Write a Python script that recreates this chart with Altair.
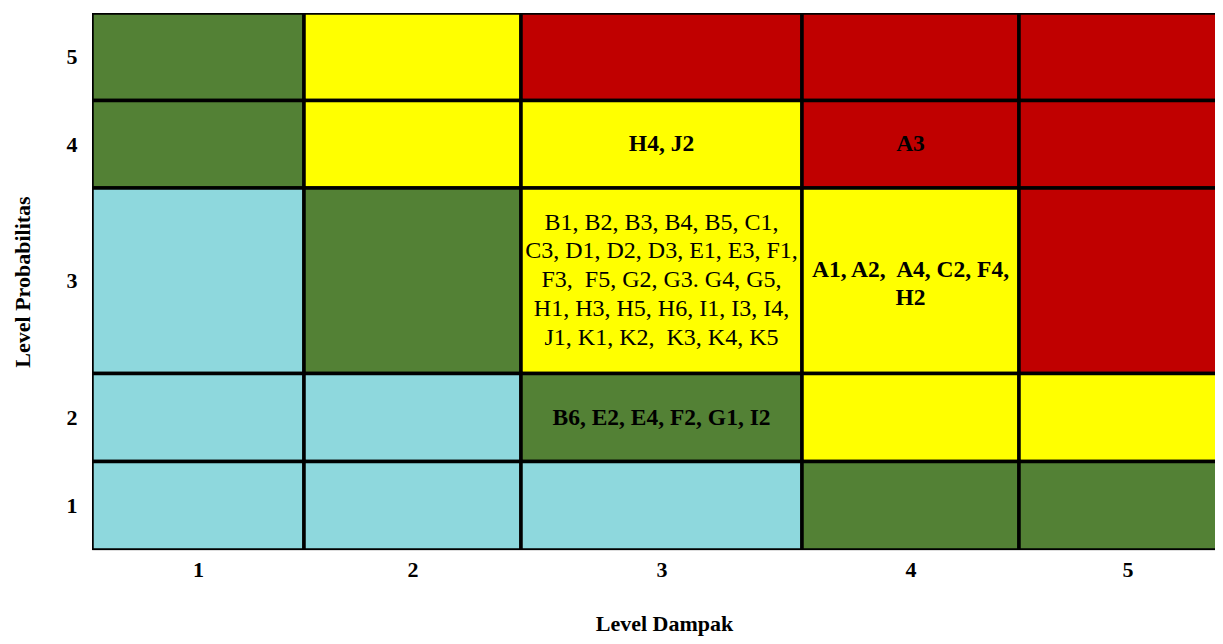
import altair as alt
import pandas as pd

# ---- data -------------------------------------------------------------
impact_levels = [1, 2, 3, 4, 5]          # Level Dampak (columns)
prob_levels = [5, 4, 3, 2, 1]            # Level Probabilitas (rows, top to bottom)

# risk zone of each cell, one list per probability row (impact 1..5)
zone_p5 = ["green", "yellow", "red", "red", "red"]
zone_p4 = ["green", "yellow", "yellow", "red", "red"]
zone_p3 = ["blue", "green", "yellow", "yellow", "red"]
zone_p2 = ["blue", "blue", "green", "yellow", "yellow"]
zone_p1 = ["blue", "blue", "blue", "green", "green"]

zone_names = ["blue", "green", "yellow", "red"]
zone_colors = ["#8ED8DD", "#538135", "#FFFF00", "#C00000"]

# risk codes placed in cells (bold, single line)
bold_impact = [3, 4, 3]
bold_prob = [4, 4, 2]
bold_text = ["H4, J2", "A3", "B6, E2, E4, F2, G1, I2"]

# risk codes placed in cells (bold, two lines)
bold2_impact = [4]
bold2_prob = [3]
bold2_text = ["A1, A2,\u00a0 A4, C2, F4,\nH2"]

# risk codes placed in cells (regular, five lines)
normal_impact = [3]
normal_prob = [3]
normal_text = [
    "B1, B2, B3, B4, B5, C1,\nC3, D1, D2, D3, E1, E3, F1,\nF3,\u00a0 F5, G2, G3. G4, G5,\n"
    "H1, H3, H5, H6, I1, I3, I4,\nJ1, K1, K2,\u00a0 K3, K4, K5"
]

# ---- tables -----------------------------------------------------------
zones = [zone_p5, zone_p4, zone_p3, zone_p2, zone_p1]
rows = []
for p, zrow in zip(prob_levels, zones):
    for i, z in zip(impact_levels, zrow):
        rows.append({"impact": i, "prob": p, "zone": z})
cells = pd.DataFrame(rows)
bold_df = pd.DataFrame({"impact": bold_impact, "prob": bold_prob, "label": bold_text})
bold2_df = pd.DataFrame({"impact": bold2_impact, "prob": bold2_prob, "label": bold2_text})
normal_df = pd.DataFrame({"impact": normal_impact, "prob": normal_prob, "label": normal_text})

# ---- scales / axes ----------------------------------------------------
FONT = "Liberation Serif"
edges = [0.5, 1.5, 2.5, 3.5, 4.5, 5.5]
x_scale = alt.Scale(domain=edges, range=[0, 212, 429, 710, 927, 1144], nice=False, zero=False)
y_scale = alt.Scale(domain=edges, range=[537, 448.5, 360.5, 175, 87.5, 0], nice=False, zero=False)

x_axis = alt.Axis(
    values=impact_levels, format="d", title="Level Dampak",
    domain=False, ticks=False, grid=False,
    labelFont=FONT, labelFontSize=22, labelFontWeight="bold", labelColor="black",
    labelPadding=9, labelAngle=0,
    titleFont=FONT, titleFontSize=22, titleFontWeight="bold", titleColor="black",
    titleX=572, titleY=73, titleAlign="center", titleBaseline="middle",
)
y_axis = alt.Axis(
    values=impact_levels, format="d", title="Level Probabilitas",
    domain=False, ticks=False, grid=False,
    labelFont=FONT, labelFontSize=22, labelFontWeight="bold", labelColor="black",
    labelPadding=15,
    titleFont=FONT, titleFontSize=22, titleFontWeight="bold", titleColor="black",
    titleX=-70, titleY=268.5, titleAngle=-90, titleAlign="center", titleBaseline="middle",
)

rects = (
    alt.Chart(cells)
    .transform_calculate(x_lo="datum.impact - 0.5", x_hi="datum.impact + 0.5",
                         y_lo="datum.prob - 0.5", y_hi="datum.prob + 0.5")
    .mark_rect(stroke="black", strokeWidth=3.5, clip=True)
    .encode(
        x=alt.X("x_lo:Q", scale=x_scale, axis=x_axis),
        x2="x_hi:Q",
        y=alt.Y("y_lo:Q", scale=y_scale, axis=y_axis),
        y2="y_hi:Q",
        color=alt.Color("zone:N", scale=alt.Scale(domain=zone_names, range=zone_colors), legend=None),
    )
)


def text_layer(df, weight, size, line_h, dy):
    return (
        alt.Chart(df)
        .mark_text(font=FONT, fontSize=size, fontWeight=weight, color="black",
                   lineBreak="\n", lineHeight=line_h, align="center", baseline="middle", dy=dy)
        .encode(
            x=alt.X("impact:Q", scale=x_scale, axis=x_axis),
            y=alt.Y("prob:Q", scale=y_scale, axis=y_axis),
            text="label:N",
        )
    )


bold_txt = text_layer(bold_df, "bold", 23.5, 28, 0)
bold2_txt = text_layer(bold2_df, "bold", 23.5, 28, -11)
normal_txt = text_layer(normal_df, "normal", 24, 28.7, -58)

chart = (
    alt.layer(rects, bold_txt, bold2_txt, normal_txt)
    .properties(
        width=1123, height=537,
        autosize=alt.AutoSizeParams(type="none"),
        padding={"left": 84, "top": 5, "right": 0, "bottom": 86},
    )
    .configure_view(stroke=None)
    .configure(background="white")
)

chart.save("out.html", embed_options={"renderer": "svg", "actions": False})
